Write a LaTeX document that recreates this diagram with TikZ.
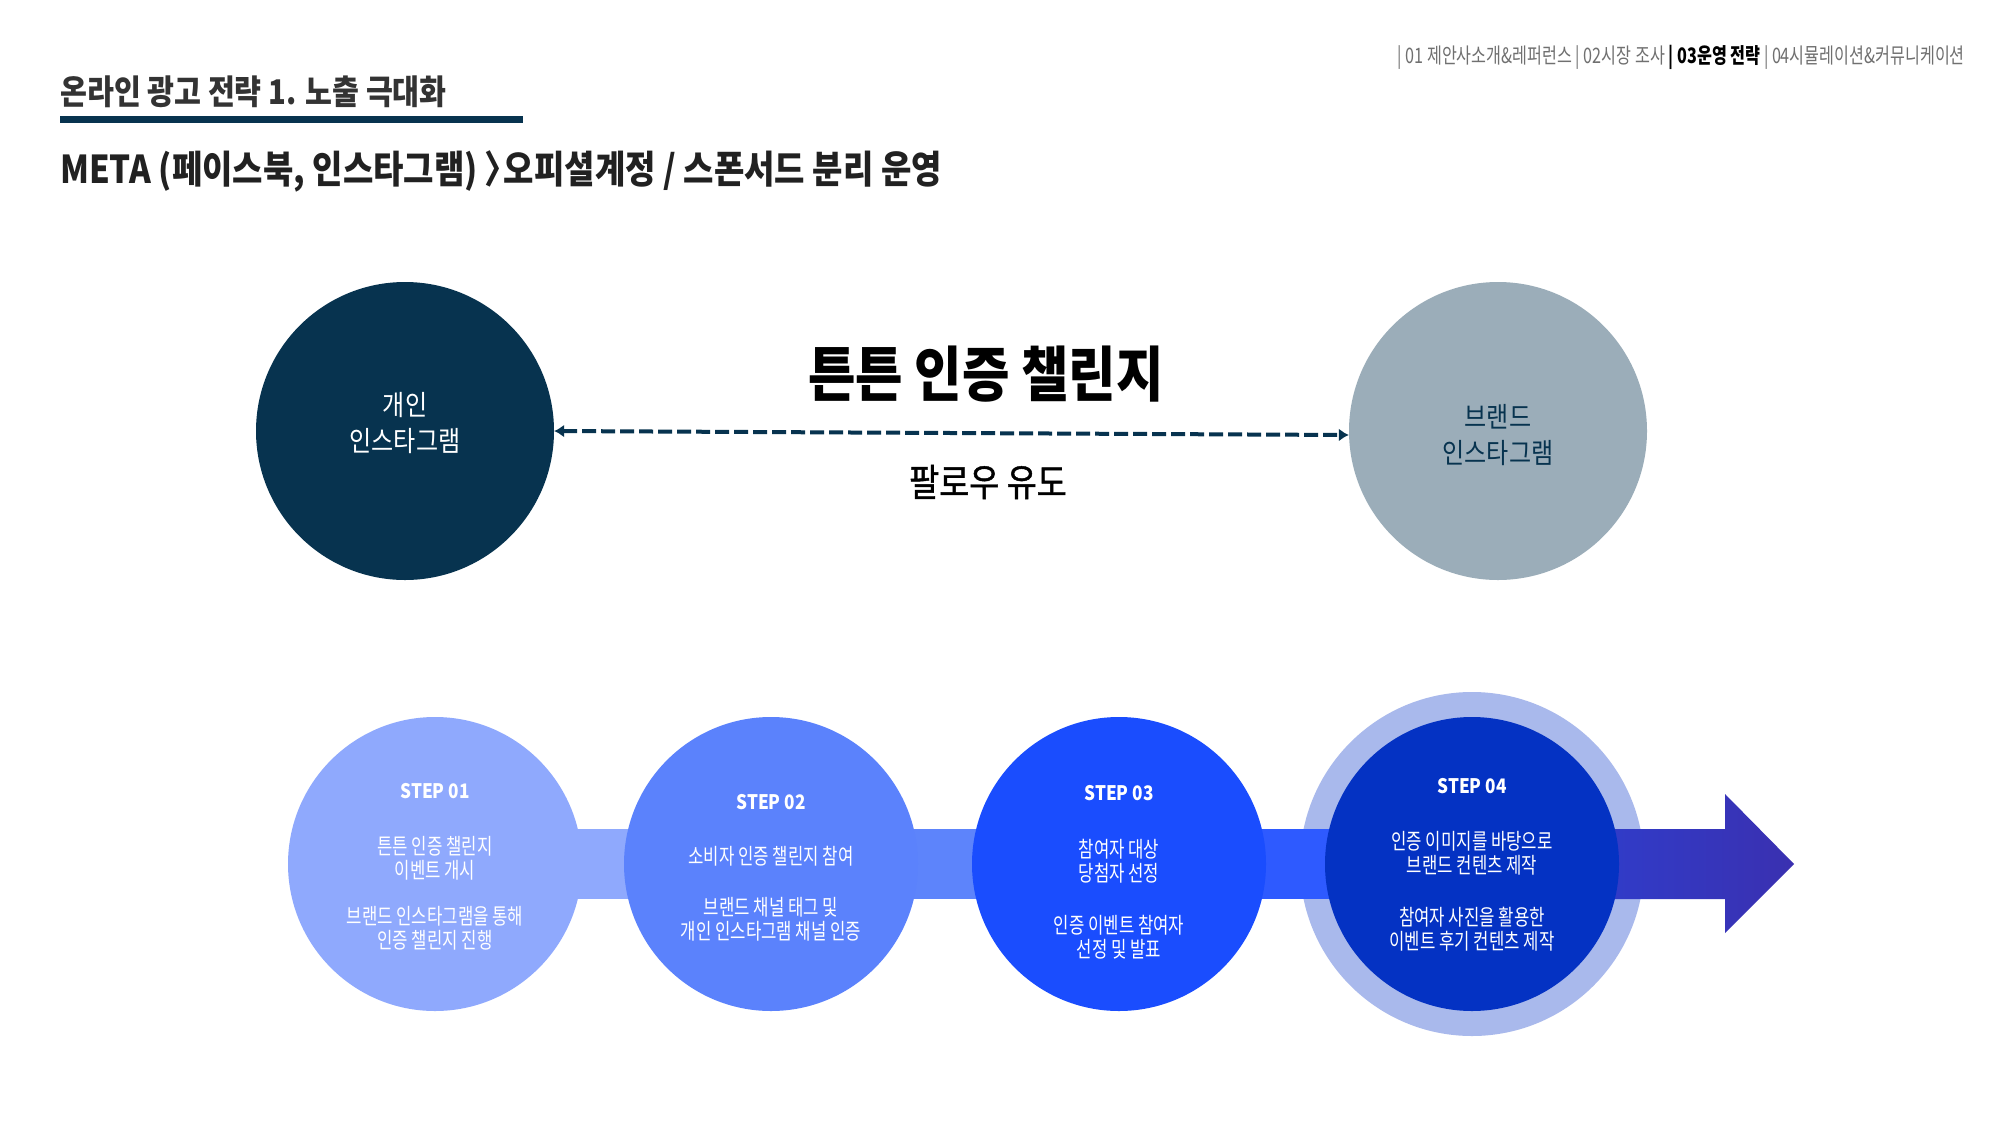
\documentclass[tikz,border=0pt]{standalone}
\usepackage{fontspec}
\setmainfont{Noto Sans CJK KR}[FakeStretch=0.76]
\newfontfamily\widekr{Noto Sans CJK KR}[FakeStretch=0.86]
\newfontfamily\semikr{Noto Sans CJK KR}[FakeStretch=0.86, FakeBold=1.2]
\usepackage{xcolor}
\usetikzlibrary{positioning,arrows.meta}

\definecolor{navy}{HTML}{07334F}
\definecolor{slate}{HTML}{9BADB9}
\definecolor{navgray}{HTML}{707070}
\definecolor{titlegray}{HTML}{333333}
\definecolor{stepa}{HTML}{8FA9FD}
\definecolor{stepb}{HTML}{5B82FC}
\definecolor{stepc}{HTML}{1A4DFE}
\definecolor{stepd}{HTML}{0432C3}
\definecolor{ring}{HTML}{A9B9EC}
\definecolor{bandb}{HTML}{5D84FB}
\definecolor{bandc}{HTML}{2E5AFF}
\definecolor{arrowa}{HTML}{2A44DA}
\definecolor{arrowb}{HTML}{3A30B0}

\tikzset{
  bigcirc/.style={circle, minimum size=298pt, inner sep=0pt},
  stepcirc/.style={circle, minimum size=294pt, inner sep=0pt},
  circtext/.style={align=center, inner sep=0pt, font=\widekr\fontsize{28}{36}\selectfont},
  steptitle/.style={text=white, inner sep=0pt, font=\widekr\bfseries\fontsize{20}{24}\selectfont},
  steptext/.style={text=white, align=center, inner sep=0pt, font=\fontsize{22}{24}\selectfont},
  follow/.style={navy, line width=4pt, dash pattern=on 14pt off 5pt,
    {Latex[length=10pt,width=13pt]}-{Latex[length=10pt,width=13pt]}},
}

\begin{document}
\begin{tikzpicture}[x=1pt,y=-1pt]

\fill[white] (0,0) rectangle (2000,1125);
\useasboundingbox (0,0) rectangle (2000,1125);

% header
\node[anchor=east, inner sep=0pt, text=navgray, font=\fontsize{21.3}{24}\selectfont] (nav) at (1965,57)
  {| 01 제안사소개\&레퍼런스 | 02시장 조사 {\bfseries\color{black}| 03운영 전략} | 04시뮬레이션\&커뮤니케이션};
\node[anchor=west, inner sep=0pt, text=titlegray, font=\widekr\bfseries\fontsize{34}{38}\selectfont] (title) at (60,92)
  {온라인 광고 전략 1. 노출 극대화};
\fill[navy] (60,116) rectangle (523,123);
\node[anchor=west, inner sep=0pt, text=black!87, font=\widekr\bfseries\fontsize{38.4}{42}\selectfont] (subtitle) at (60,171)
  {META (페이스북, 인스타그램)\,〉\hspace{-0.35em}오피셜계정 / 스폰서드 분리 운영};

% top accounts
\node[bigcirc, fill=navy] (gaein) at (405,431) {};
\node[bigcirc, fill=slate] (brand) at (1498,431) {};
\node[circtext, text=white] (gaeintxt) at ([yshift=8]gaein.center) {개인\\인스타그램};
\node[circtext, text=navy] (brandtxt) at ([yshift=-4.5]brand.center) {브랜드\\인스타그램};

\draw[follow] (gaein.east) -- ([yshift=-4]brand.west);

\node[inner sep=0pt, font=\widekr\bfseries\fontsize{60}{64}\selectfont] (challenge) at (986,374) {튼튼 인증 챌린지};
\node[inner sep=0pt, font=\semikr\fontsize{38}{42}\selectfont] (followtxt) at (988,482) {팔로우 유도};

% steps
\foreach \n/\cx in {1/435,2/771,3/1119,4/1472}{
\coordinate (c\n) at (\cx,864);
}
\node[circle, minimum size=344pt, inner sep=0pt, fill=ring] (ringd) at (c4) {};

\fill[stepa] ([yshift=35]c1) rectangle ([yshift=-35]c2);
\fill[bandb] ([yshift=35]c2) rectangle ([yshift=-35]c3);
\fill[bandc] ([yshift=35]c3) rectangle ([yshift=-35]c4);
\shade[left color=arrowa, right color=arrowb] ([yshift=35]c4) -- (1725,829) -- (1725,794) -- (1794,864)
  -- (1725,933) -- (1725,899) -- ([yshift=-35]c4) -- cycle;

\foreach \n/\col in {1/stepa,2/stepb,3/stepc,4/stepd}{
\node[stepcirc, fill=\col] (step\n) at (c\n) {};
}

\foreach \n/\ts/\ya/\pa/\yb/\pb in {
  1/73/5.5/{튼튼 인증 챌린지\\이벤트 개시}/-64/{브랜드 인스타그램을 통해\\인증 챌린지 진행},
  2/62/8/{소비자 인증 챌린지 참여}/-55/{브랜드 채널 태그 및\\개인 인스타그램 채널 인증},
  3/71/3/{참여자 대상\\당첨자 선정}/-73/{인증 이벤트 참여자\\선정 및 발표},
  4/78/10.5/{인증 이미지를 바탕으로\\브랜드 컨텐츠 제작}/-65/{참여자 사진을 활용한\\이벤트 후기 컨텐츠 제작}}{
\node[steptitle] (st\n) at ([yshift=\ts]step\n.center) {STEP 0\n};
\node[steptext] (sa\n) at ([yshift=\ya]step\n.center) {\pa};
\node[steptext] (sb\n) at ([yshift=\yb]step\n.center) {\pb};
}

\end{tikzpicture}
\end{document}
